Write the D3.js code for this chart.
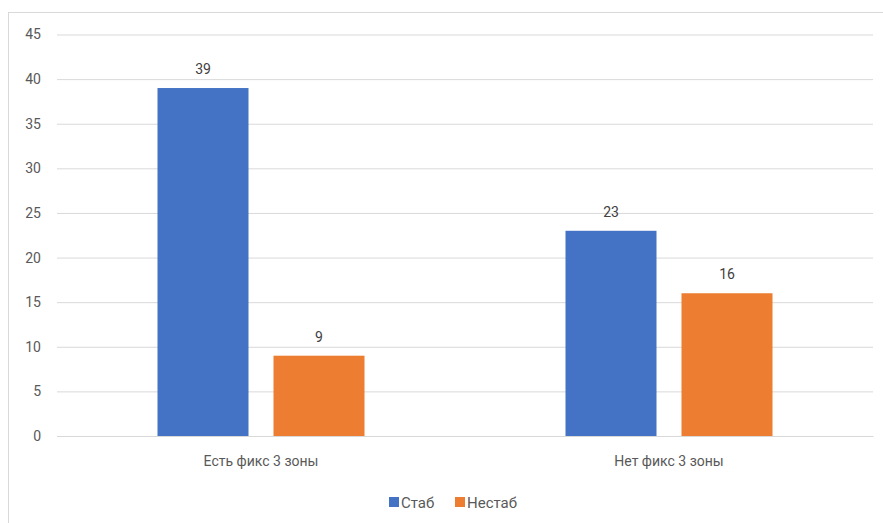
<!DOCTYPE html>
<html>
<head>
<meta charset="utf-8">
<script src="https://cdn.jsdelivr.net/npm/d3@7"></script>
<style>
  html, body { margin: 0; padding: 0; background: #fff; }
  svg { display: block; }
  text { font-family: Roboto, "Liberation Sans", sans-serif; }
</style>
</head>
<body>
<svg id="chart" width="883" height="523"></svg>
<script>
const categories = ["Есть фикс 3 зоны", "Нет фикс 3 зоны"];
const seriesNames = ["Стаб", "Нестаб"];
const stabValues = [39, 23];
const nestabValues = [9, 16];
const yTicks = [0, 5, 10, 15, 20, 25, 30, 35, 40, 45];
const colors = ["#4472C4", "#ED7D31"];

const seriesValues = [stabValues, nestabValues];
const svg = d3.select("#chart");
const W = 883, H = 523;
const m = { left: 57, right: 10, top: 34.5, bottom: 87 };

// chart frame
svg.append("rect")
  .attr("x", 8.5).attr("y", 12.5)
  .attr("width", W - 8).attr("height", H)
  .attr("fill", "#fff").attr("stroke", "#d9d9d9");

const x = d3.scaleBand().domain(categories).range([m.left, W - m.right]);
// bars sit in the middle half of each category band
const barW = 91, barGap = 25;
const groupW = barW * 2 + barGap;
const groupOffset = (x.bandwidth() - groupW) / 2;
const xs = d3.scaleBand().domain(seriesNames)
  .range([groupOffset, groupOffset + groupW])
  .paddingInner(barGap / (barW + barGap)).paddingOuter(0);
const y = d3.scaleLinear().domain([0, 45]).range([H - m.bottom, m.top]);

// gridlines and y labels
const yAxis = d3.axisLeft(y).tickValues(yTicks)
  .tickSize(-(W - m.right - m.left)).tickPadding(16);
const gy = svg.append("g").attr("transform", `translate(${m.left},0)`).call(yAxis);
gy.select(".domain").remove();
gy.selectAll(".tick line").attr("stroke", "#d9d9d9").attr("stroke-width", 1);
gy.selectAll(".tick text").attr("fill", "#595959").attr("font-size", 14);

// bars
const groups = svg.append("g").selectAll("g")
  .data(categories).join("g")
  .attr("transform", d => `translate(${x(d)},0)`);

groups.selectAll("rect")
  .data((c, ci) => seriesNames.map((s, si) => ({ s, si, v: seriesValues[si][ci] })))
  .join("rect")
  .attr("x", d => xs(d.s))
  .attr("width", xs.bandwidth())
  .attr("y", d => y(d.v))
  .attr("height", d => y(0) - y(d.v))
  .attr("fill", d => colors[d.si]);

groups.selectAll("text.val")
  .data((c, ci) => seriesNames.map((s, si) => ({ s, si, v: seriesValues[si][ci] })))
  .join("text")
  .attr("class", "val")
  .attr("x", d => xs(d.s) + xs.bandwidth() / 2)
  .attr("y", d => y(d.v) - 14)
  .attr("text-anchor", "middle")
  .attr("font-size", 14)
  .attr("fill", "#404040")
  .text(d => d.v);

// category labels
const xAxis = d3.axisBottom(x).tickSize(0).tickPadding(20);
const gx = svg.append("g").attr("transform", `translate(0,${y(0)})`).call(xAxis);
gx.select(".domain").attr("stroke", "#d9d9d9");
gx.selectAll(".tick text").attr("fill", "#595959").attr("font-size", 14);

// legend
const legend = svg.append("g").attr("transform", "translate(389,502)");
const legendX = [0, 66];
seriesNames.forEach((s, i) => {
  const g = legend.append("g").attr("transform", `translate(${legendX[i]},0)`);
  g.append("rect").attr("x", 0).attr("y", -5).attr("width", 10).attr("height", 10).attr("fill", colors[i]);
  g.append("text").attr("x", 12).attr("y", 5.5).attr("font-size", 15).attr("fill", "#595959").text(s);
});
</script>
</body>
</html>
